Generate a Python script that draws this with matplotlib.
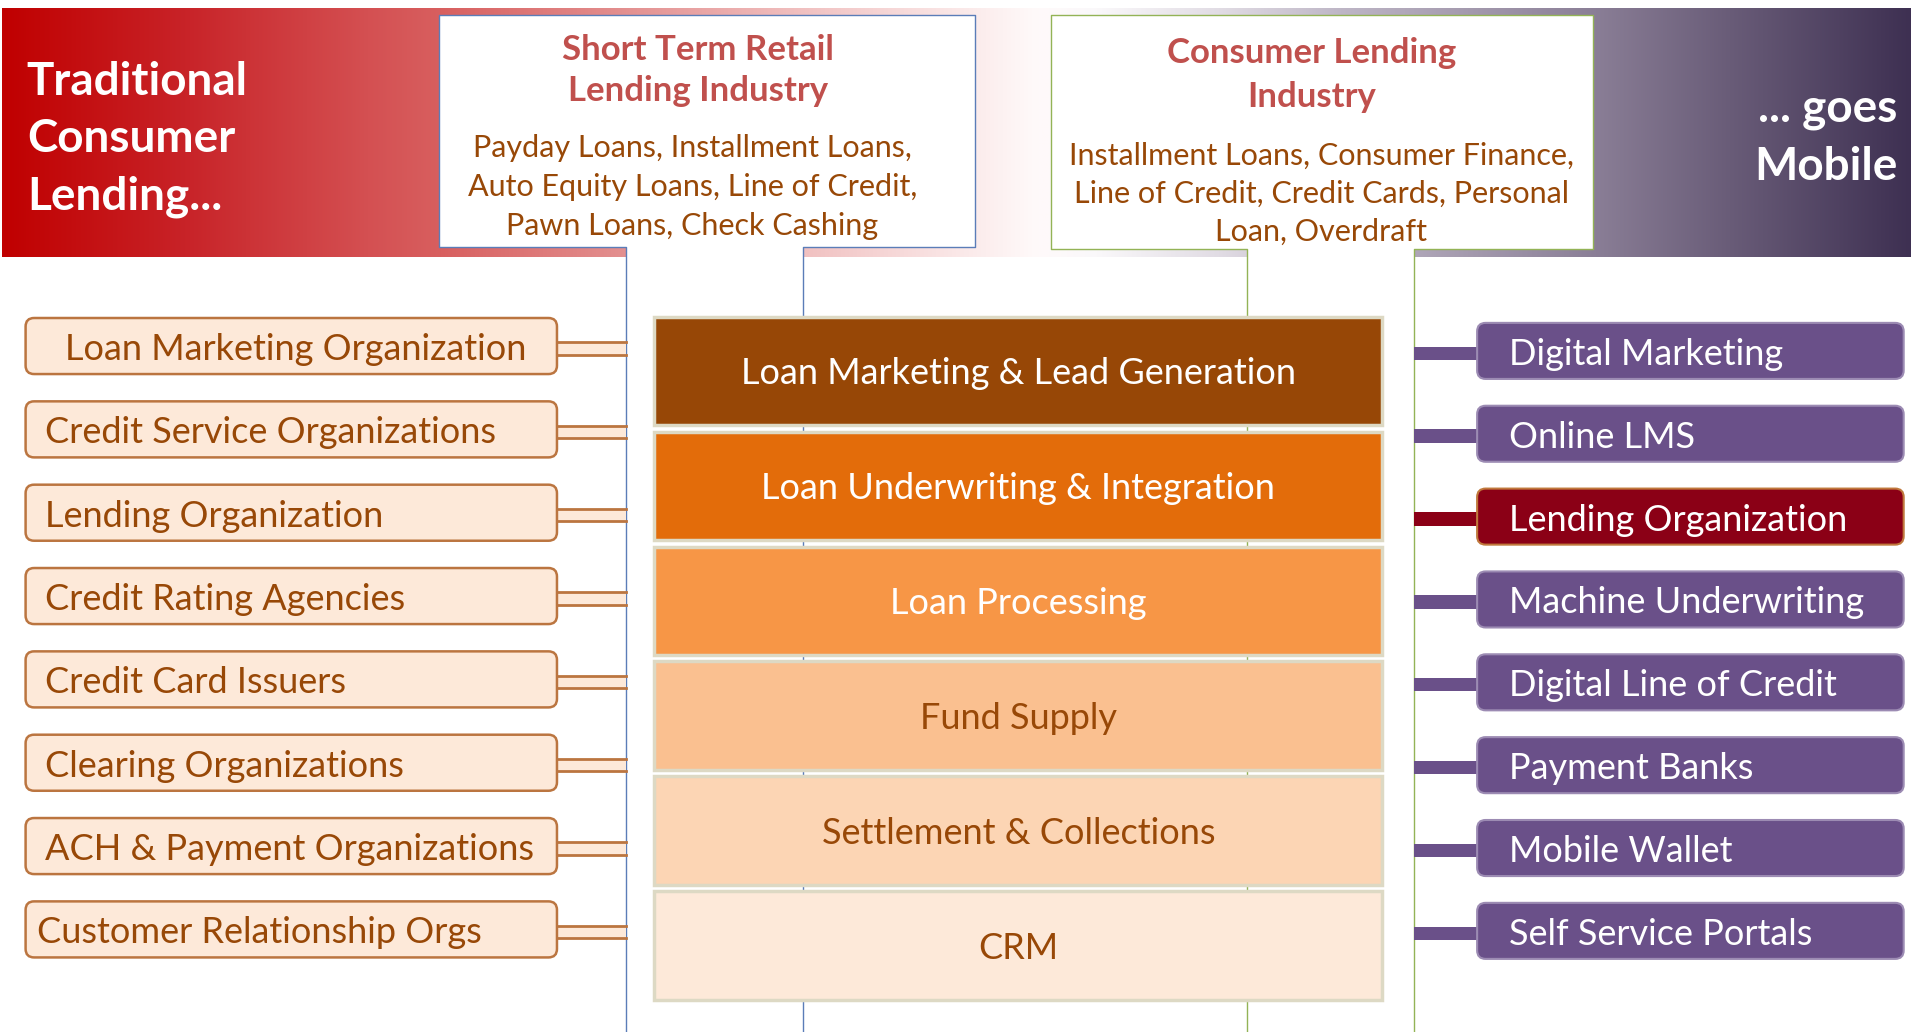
import numpy as np
import matplotlib.pyplot as plt
from matplotlib.patches import Rectangle, FancyBboxPatch, Polygon

plt.rcParams['font.family'] = ['Lato', 'DejaVu Sans']

# ---- content ----
headline_left = ['Traditional', 'Consumer', 'Lending...']
headline_right = ['... goes', 'Mobile']
retail_title = ['Short Term Retail', 'Lending Industry']
retail_products = ['Payday Loans, Installment Loans,',
                   'Auto Equity Loans, Line of Credit,',
                   'Pawn Loans, Check Cashing']
consumer_title = ['Consumer Lending', 'Industry']
consumer_products = ['Installment Loans, Consumer Finance,',
                     'Line of Credit, Credit Cards, Personal',
                     'Loan, Overdraft']
stages = ['Loan Marketing & Lead Generation', 'Loan Underwriting & Integration',
          'Loan Processing', 'Fund Supply', 'Settlement & Collections', 'CRM']
traditional_orgs = ['Loan Marketing Organization', 'Credit Service Organizations',
                    'Lending Organization', 'Credit Rating Agencies',
                    'Credit Card Issuers', 'Clearing Organizations',
                    'ACH & Payment Organizations', 'Customer Relationship Orgs']
mobile_orgs = ['Digital Marketing', 'Online LMS', 'Lending Organization',
               'Machine Underwriting', 'Digital Line of Credit', 'Payment Banks',
               'Mobile Wallet', 'Self Service Portals']
highlight = 'Lending Organization'

# ---- styles ----
stage_fill = ['#974706', '#E36C0A', '#F79646', '#FAC090', '#FCD5B4', '#FDE9D9']
stage_text = ['white', 'white', 'white', '#984807', '#984807', '#984807']
brown = '#984807'
title_red = '#C0504D'
peach = '#FDE9D9'
peach_edge = '#BB7540'
purple = '#6A5089'
dark_red = '#8B0016'
blue_line = '#5B7DB8'
green_line = '#93B356'

# banner gradient stops (x position, rgb)
grad_x = [0, 150, 300, 360, 500, 650, 780, 850, 900, 1000, 1100, 1310, 1420, 1568]
grad_rgb = [(192, 0, 0), (200, 35, 40), (212, 80, 82), (216, 95, 95), (226, 140, 140),
            (240, 190, 190), (250, 230, 230), (255, 250, 250), (250, 248, 250),
            (225, 220, 228), (190, 182, 198), (138, 126, 150), (105, 92, 120), (62, 48, 82)]

W, H = 1568, 847
fig = plt.figure(figsize=(19.11, 10.32), dpi=100)
ax = fig.add_axes([0, 0, 1, 1])

# banner
xs = np.linspace(0, W, 800)
rgb = np.array(grad_rgb) / 255.0
grad = np.stack([np.interp(xs, grad_x, rgb[:, k]) for k in range(3)], axis=-1)[None, :, :]
ax.imshow(grad, extent=(2, W, 211, 7), aspect='auto', interpolation='bilinear', zorder=0)


def callout(x0, x1, s0, s1, top, bottom, edge):
    pts = [(s0, H), (s0, bottom), (x0, bottom), (x0, top), (x1, top), (x1, bottom), (s1, bottom), (s1, H)]
    ax.add_patch(Polygon(pts, closed=True, facecolor='white', edgecolor='none', zorder=1))
    px, py = zip(*pts)
    ax.plot(px, py, color=edge, lw=1.0, zorder=2)


callout(360, 800, 514, 659, 12, 203, blue_line)
callout(862, 1307, 1023, 1160, 12, 204, green_line)

kw = dict(zorder=6)
for i, line in enumerate(headline_left):
    ax.text(22, 78 + i * 47, line, color='white', fontsize=33, fontweight='bold', ha='left', va='baseline', **kw)
for i, line in enumerate(headline_right):
    ax.text(1557, 100 + i * 48, line, color='white', fontsize=33, fontweight='bold', ha='right', va='baseline', **kw)
for i, line in enumerate(retail_title):
    ax.text(573, 49 + i * 34, line, color=title_red, fontsize=25, fontweight='bold', ha='center', va='baseline', **kw)
for i, line in enumerate(retail_products):
    ax.text(568, 129 + i * 32, line, color=brown, fontsize=22, ha='center', va='baseline', **kw)
for i, line in enumerate(consumer_title):
    ax.text(1076, 52 + i * 36, line, color=title_red, fontsize=25, fontweight='bold', ha='center', va='baseline', **kw)
for i, line in enumerate(consumer_products):
    ax.text(1084, 135 + i * 31.5, line, color=brown, fontsize=22, ha='center', va='baseline', **kw)

# centre stack
for i, (name, fc, tc) in enumerate(zip(stages, stage_fill, stage_text)):
    top = 260 + i * 94.3
    ax.add_patch(Rectangle((537, top), 597, 89, facecolor=fc, edgecolor='#DDD9C4', lw=2.5, zorder=4))
    ax.text(835.5, top + 44.5 + 11, name, color=tc, fontsize=26, ha='center', va='baseline', **kw)

# left column
left_text_x = [53, 37, 37, 37, 37, 37, 37, 30]
for i, name in enumerate(traditional_orgs):
    top = 261 + i * 68.4
    c = top + 23
    ax.add_patch(Rectangle((455, c - 3), 59, 10, facecolor=peach, edgecolor='none', zorder=3))
    ax.plot([455, 514], [c - 3, c - 3], color=peach_edge, lw=2, zorder=3)
    ax.plot([455, 514], [c + 7, c + 7], color=peach_edge, lw=2, zorder=3)
    ax.add_patch(FancyBboxPatch((21, top), 436, 46, boxstyle='round,pad=0,rounding_size=7',
                                facecolor=peach, edgecolor=peach_edge, lw=1.8, zorder=4))
    ax.text(left_text_x[i], c + 11.5, name, color=brown, fontsize=26, ha='left', va='baseline', **kw)

# right column
for i, name in enumerate(mobile_orgs):
    top = 265 + i * 68
    c = top + 22.5
    fc = dark_red if name == highlight else purple
    ec = '#C0783C' if name == highlight else '#9C8BB3'
    ax.add_patch(Rectangle((1160, c - 3), 54, 11, facecolor=fc, edgecolor='none', zorder=3))
    ax.add_patch(FancyBboxPatch((1212, top), 350, 46, boxstyle='round,pad=0,rounding_size=7',
                                facecolor=fc, edgecolor=ec, lw=1.5, zorder=4))
    ax.text(1238, c + 12, name, color='white', fontsize=26, ha='left', va='baseline', **kw)

ax.set_xlim(0, W)
ax.set_ylim(H, 0)
ax.axis('off')
fig.savefig('out.png', dpi=100, facecolor='white')
